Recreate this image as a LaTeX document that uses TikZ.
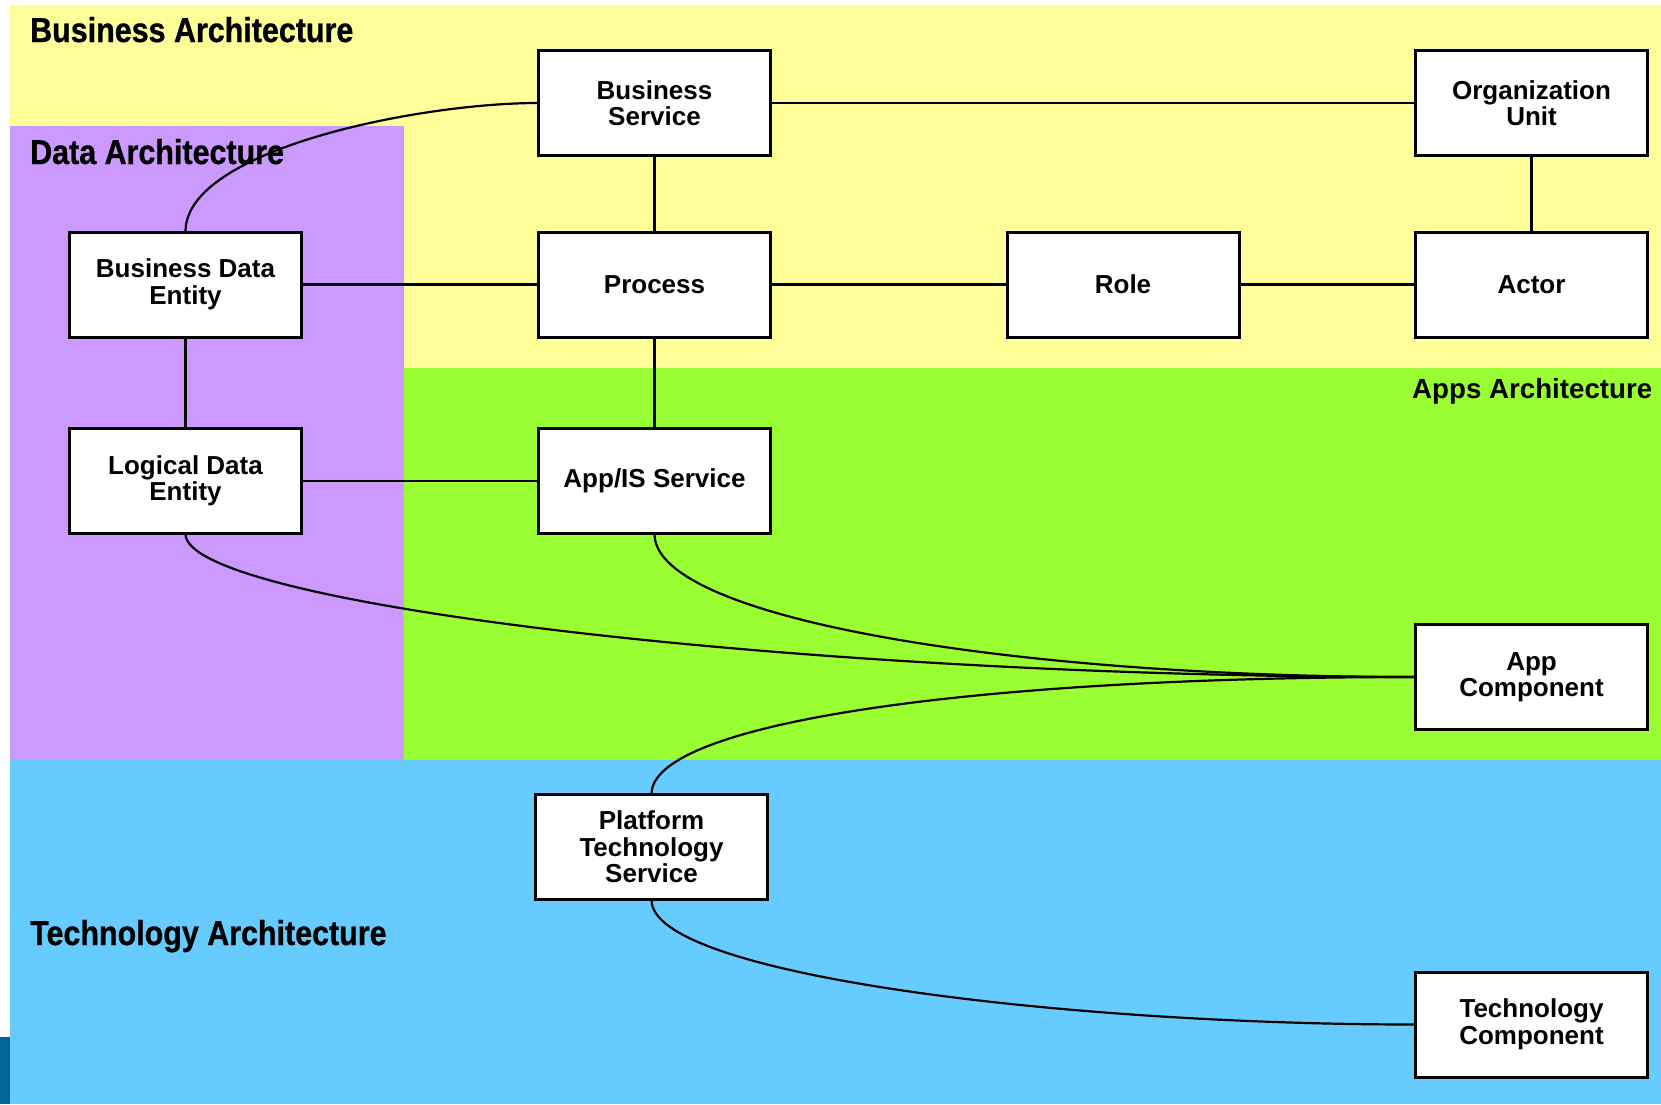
\documentclass[tikz,border=0pt]{standalone}
\usepackage{fontspec}
\setmainfont{Liberation Sans}
\newfontfamily\headfont[FakeStretch=0.88,FakeBold=0.8]{Liberation Sans}
\definecolor{bizyellow}{HTML}{FFFF99}
\definecolor{datapurple}{HTML}{CC99FF}
\definecolor{appgreen}{HTML}{99FF33}
\definecolor{techblue}{HTML}{66CCFF}
\definecolor{darkstrip}{HTML}{006699}
\tikzset{
  box/.style={draw, line width=2pt, fill=white, minimum width=231pt, minimum height=104pt,
    inner sep=0pt, align=center, font=\fontsize{26}{26.5}\selectfont\bfseries},
  heading/.style={inner sep=0pt, font=\headfont\fontsize{34.6}{40}\selectfont\bfseries},
  appsheading/.style={inner sep=0pt, font=\fontsize{27.7}{30}\selectfont\bfseries},
  link/.style={line width=2.2pt},
}
\begin{document}
\begin{tikzpicture}[x=1pt,y=-1pt]
\useasboundingbox (0,0) rectangle (1661,1104);
% backgrounds
\fill[white] (0,0) rectangle (1661,1104);
\fill[bizyellow] (10,5) rectangle (1661,367.7);
\fill[appgreen] (403.5,367.7) rectangle (1661,760);
\fill[datapurple] (10,126) rectangle (403.5,760);
\fill[techblue] (10,760) rectangle (1661,1104);
\fill[darkstrip] (0,1037) rectangle (10,1104);
% headings
\node[heading, anchor=base west] (hbiz) at (30,42) {Business Architecture};
\node[heading, anchor=base west] (hdata) at (30,164) {Data Architecture};
\node[appsheading, anchor=base east] (happs) at (1652.5,398) {Apps Architecture};
\node[heading, anchor=base west] (htech) at (30,945) {Technology Architecture};
% boxes
\node[box] (bs) at (654.5,103) {Business\\Service};
\node[box] (ou) at (1531.5,103) {Organization\\Unit};
\node[box] (bde) at (185.5,284.5) {Business Data\\Entity};
\node[box] (proc) at (654.5,284.5) {Process};
\node[box] (role) at (1123,284.5) {Role};
\node[box] (actor) at (1531.5,284.5) {Actor};
\node[box] (lde) at (185.5,481) {Logical Data\\Entity};
\node[box] (ais) at (654.5,481) {App/IS Service};
\node[box] (ac) at (1531.5,677) {App\\Component};
\node[box] (pts) at (651.5,847) {Platform\\Technology\\Service};
\node[box] (tc) at (1531.5,1024.5) {Technology\\Component};
% connectors
\draw[link] (bs.west) .. controls +(-119,0) and +(0,-82) .. (bde.north);
\draw[link] (lde.south) .. controls +(0,70) and +(-616,0) .. (ac.west);
\draw[link] (ais.south) .. controls +(0,85) and +(-400,0) .. (ac.west);
\draw[link] (pts.north) .. controls +(0,-70) and +(-450,0) .. (ac.west);
\draw[link] (pts.south) .. controls +(0,75) and +(-350,0) .. (tc.west);
\draw[link] (bs.east) -- (ou.west);
\draw[link] (bs.south) -- (proc.north);
\draw[link] (ou.south) -- (actor.north);
\draw[link] (bde.east) -- (proc.west);
\draw[link] (proc.east) -- (role.west);
\draw[link] (role.east) -- (actor.west);
\draw[link] (bde.south) -- (lde.north);
\draw[link] (proc.south) -- (ais.north);
\draw[link] (lde.east) -- (ais.west);
% box outlines on top of connector ends
\foreach \n in {bs,ou,bde,proc,role,actor,lde,ais,ac,pts,tc} {
  \draw[line width=2pt] (\n.south west) rectangle (\n.north east);
}
\end{tikzpicture}
\end{document}
